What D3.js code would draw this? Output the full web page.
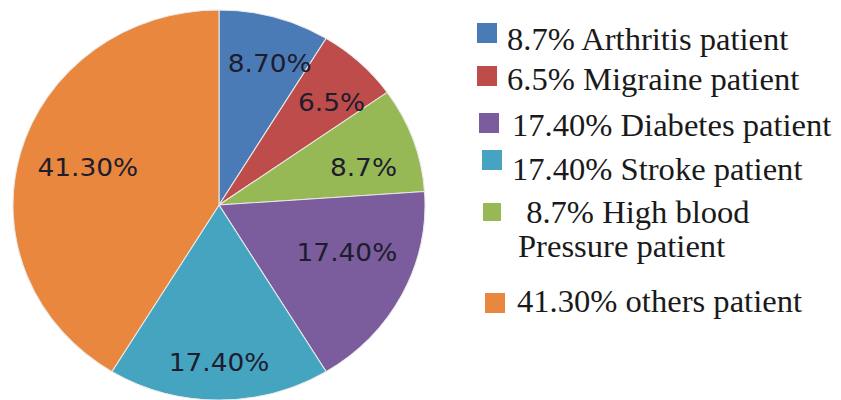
<!DOCTYPE html>
<html><head><meta charset="utf-8">
<script src="https://cdn.jsdelivr.net/npm/d3@7"></script>
<style>body{margin:0;background:#fff}svg{display:block}</style>
</head><body>
<svg id="chart" width="841" height="400"></svg>
<script>
const categories = ["Arthritis patient","Migraine patient","High blood Pressure patient","Diabetes patient","Stroke patient","others patient"];
const values = [8.7, 6.5, 8.7, 17.4, 17.4, 41.3];
const sliceLabels = ["8.70%","6.5%","8.7%","17.40%","17.40%","41.30%"];
const colors = ["#4a7bb6","#be4c4a","#97b955","#7b5c9c","#45a5c1","#e8873d"];
// legend order and text lines
const legendOrder = [0,1,3,4,2,5];
const legendLines = [["8.7% Arthritis patient"],["6.5% Migraine patient"],["17.40% Diabetes patient"],["17.40% Stroke patient"],[" 8.7% High blood","Pressure patient"],["41.30% others patient"]];

const svg = d3.select("#chart");
const cx = 219, cy = 205, ry = 195, rx = 206;
const g = svg.append("g").attr("transform", `translate(${cx},${cy}) scale(${rx/ry},1)`);
const pie = d3.pie().sort(null).value(d => d)(values);
const arc = d3.arc().innerRadius(0).outerRadius(ry);
// label placement tweaks (layout only)
const labelR = [150, 148, 142, 130, 157, 130];
const labelDA = [3, 3, 4, -6, 0, 1.5];

g.selectAll("path").data(pie).join("path")
  .attr("d", arc).attr("fill", (d,i) => colors[i])
  .attr("stroke", "#e8e8e8").attr("stroke-width", 1);

g.selectAll("text").data(pie).join("text")
  .attr("transform", (d,i) => {
    const a = (d.startAngle + d.endAngle) / 2 + labelDA[i] * Math.PI / 180;
    return `translate(${labelR[i] * Math.sin(a)},${-labelR[i] * Math.cos(a)})`;
  })
  .attr("text-anchor", "middle").attr("dy", "0.36em")
  .attr("font-family", "DejaVu Sans").attr("font-size", 25)
  .attr("fill", "#1d1d2e")
  .text((d,i) => sliceLabels[i]);

// legend
const rows = [
  {sx:477, sy:23, ss:20, tx:507, ty:[50]},
  {sx:477, sy:66, ss:20, tx:507, ty:[90]},
  {sx:479, sy:113, ss:20, tx:512, ty:[136]},
  {sx:482, sy:150, ss:20, tx:512, ty:[180]},
  {sx:483, sy:203, ss:18, tx:518, ty:[223,257]},
  {sx:485, sy:293, ss:20, tx:517, ty:[312]}
];
const leg = svg.append("g");
legendOrder.forEach((ci, k) => {
  const r = rows[k];
  leg.append("rect").attr("x", r.sx).attr("y", r.sy).attr("width", r.ss).attr("height", r.ss)
    .attr("fill", colors[ci]);
  legendLines[k].forEach((line, j) => {
    leg.append("text").attr("x", r.tx).attr("y", r.ty[j])
      .attr("font-family", "Liberation Serif, Times New Roman, serif").attr("font-size", 32.6)
      .attr("fill", "#1a1a1a").style("white-space","pre")
      .text(line);
  });
});
</script>
</body></html>
